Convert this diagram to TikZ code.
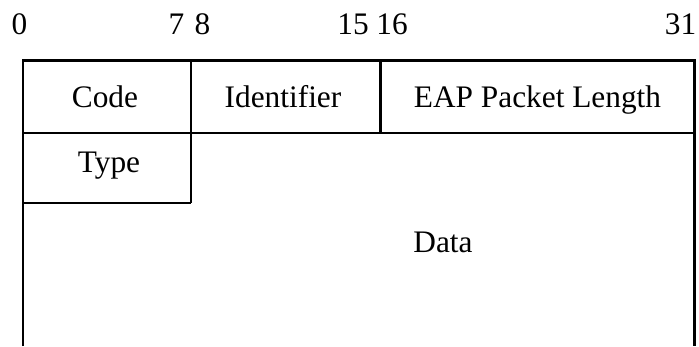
\documentclass[tikz,border=0pt]{standalone}
\usepackage{fontspec}
\setmainfont{Liberation Serif}
\begin{document}
\begin{tikzpicture}[x=0.75pt,y=-0.75pt,
  frame/.style={line width=2.2pt,line join=miter},
  field/.style={inner sep=0pt,font=\fontsize{23.5}{28}\selectfont},
  bitno/.style={inner sep=0pt,anchor=base,font=\fontsize{23.5}{28}\selectfont}]
\useasboundingbox (0,0) rectangle (699,346);

% corner points of the header layout
\coordinate (tl) at (23,60.5);
\coordinate (tr) at (694.5,60.5);
\coordinate (bl) at (23,346);
\coordinate (br) at (694.5,346);
\coordinate (r1l) at (23,133);
\coordinate (r1r) at (694.5,133);
\coordinate (d1t) at (191,60.5);
\coordinate (d1b) at (191,203);
\coordinate (d2t) at (380.5,60.5);
\coordinate (d2b) at (380.5,133);
\coordinate (tyl) at (23,203);

% outline and field separators
\draw[frame] (bl) -- (tl) -- (tr) -- (br);
\draw[frame] (r1l) -- (r1r);
\draw[frame] (d1t) -- (d1b);
\draw[frame] (d2t) -- (d2b);
\draw[frame] (tyl) -- (d1b);

% bit numbers
\node[bitno] (b0)  at (19.5,35)  {0};
\node[bitno] (b7)  at (176.5,35) {7};
\node[bitno] (b8)  at (202.5,35) {8};
\node[bitno] (b15) at (353,35)   {15};
\node[bitno] (b16) at (392,35)   {16};
\node[bitno] (b31) at (680.5,35) {31};

% field names
\node[field,anchor=base] (code)  at (105,108)   {Code};
\node[field,anchor=base] (ident) at (283,108)   {Identifier};
\node[field,anchor=base] (len)   at (537.5,108) {EAP Packet Length};
\node[field,anchor=base] (type)  at (109,172)   {Type};
\node[field,anchor=base] (data)  at (443,252)   {Data};
\end{tikzpicture}
\end{document}
